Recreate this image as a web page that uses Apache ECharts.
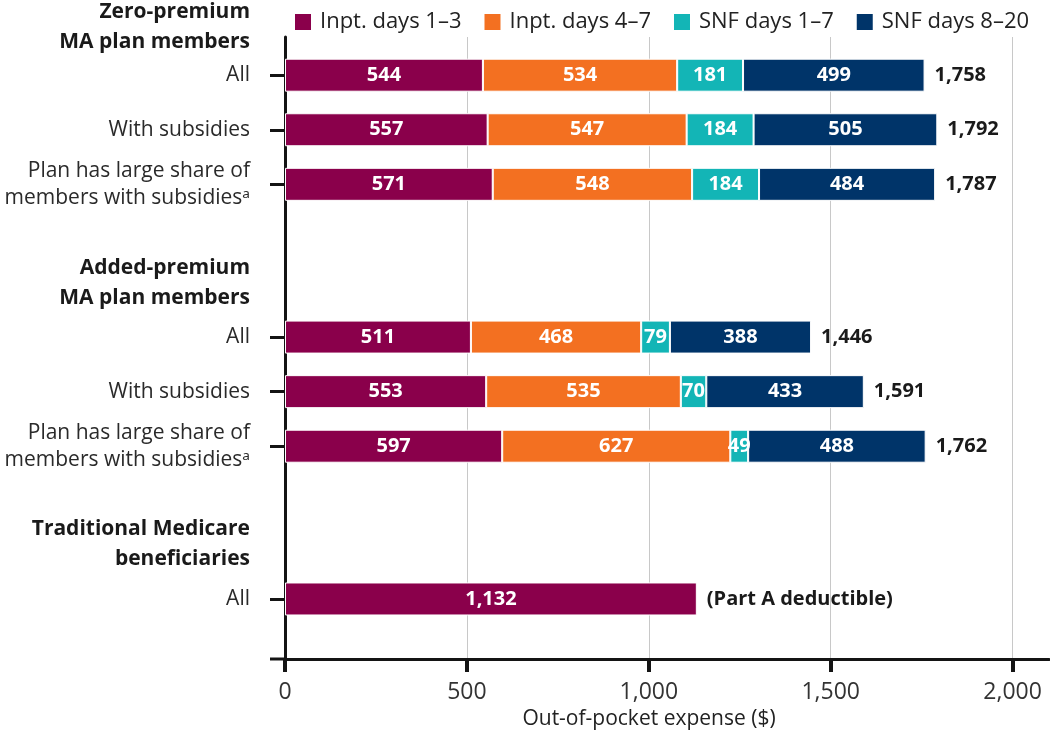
<!DOCTYPE html>
<html>
<head>
<meta charset="utf-8">
<script src="https://cdn.jsdelivr.net/npm/echarts@6/dist/echarts.min.js"></script>
<style>
  html, body { margin: 0; padding: 0; background: #fff; }
  #chart { width: 1050px; height: 744px; }
</style>
</head>
<body>
<div id="chart"></div>
<script>
// Data
var groupLabels = ['Zero-premium\nMA plan members', 'Added-premium\nMA plan members', 'Traditional Medicare\nbeneficiaries'];
var rowLabels = ['All', 'With subsidies', 'Plan has large share of\nmembers with subsidies\u1d43',
  'All', 'With subsidies', 'Plan has large share of\nmembers with subsidies\u1d43', 'All'];
var seriesNames = ['Inpt. days 1\u20133', 'Inpt. days 4\u20137', 'SNF days 1\u20137', 'SNF days 8\u201320'];
var inptDays13 = [544, 557, 571, 511, 553, 597, 1132];
var inptDays47 = [534, 547, 548, 468, 535, 627, null];
var snfDays17 = [181, 184, 184, 79, 70, 49, null];
var snfDays820 = [499, 505, 484, 388, 433, 488, null];
var totalLabels = ['1,758', '1,792', '1,787', '1,446', '1,591', '1,762', '(Part A deductible)'];
var xTicks = [0, 500, 1000, 1500, 2000];

(function() {
  var colors = ['#8a004b', '#f37021', '#13b5b6', '#003469'];
  var font = '"Open Sans", "Noto Sans", sans-serif';

  // 行的布局（每行 5 个小格）
  var nSlots = 57;
  var rowSlots = [3, 8, 13, 27, 32, 37, 51];
  var groupSlots = [0, 22, 46];

  var cats = [];
  for (var i = 0; i < nSlots; i++) cats.push('');
  rowSlots.forEach(function(s, k) { cats[s] = rowLabels[k]; });
  groupSlots.forEach(function(s, k) {
    cats[s] = {
      // 第一个标题往上挪一行
      value: k === 0 ? groupLabels[k] + '\n ' : groupLabels[k],
      textStyle: {
        fontWeight: 'bold',
        fontSize: 21,
        lineHeight: 30,
        color: '#1a1a1a'
      }
    };
  });

  function spread(vals) {
    var out = [];
    for (var i = 0; i < nSlots; i++) out.push(null);
    rowSlots.forEach(function(s, k) { out[s] = vals[k]; });
    return out;
  }

  var valueSets = [inptDays13, inptDays47, snfDays17, snfDays820];
  var series = valueSets.map(function(vals, k) {
    return {
      name: seriesNames[k],
      type: 'bar',
      stack: 'cost',
      barWidth: 33,
      data: spread(vals),
      itemStyle: { color: colors[k], borderColor: '#fff', borderWidth: 1 },
      label: {
        show: true,
        position: 'inside',
        color: '#fff',
        fontFamily: font,
        fontWeight: 'bold',
        fontSize: 20,
        formatter: function(p) {
          return p.value == null ? '' : echarts.format.addCommas(p.value);
        }
      }
    };
  });

  // 总计标签
  series.push({
    name: 'Total',
    type: 'bar',
    stack: 'cost',
    barWidth: 33,
    data: spread(totalLabels.map(function() { return 0; })),
    itemStyle: { color: 'rgba(0,0,0,0)' },
    label: {
      show: true,
      position: 'right',
      distance: 10,
      color: '#1a1a1a',
      fontFamily: font,
      fontWeight: 'bold',
      fontSize: 20,
      formatter: function(p) {
        var k = rowSlots.indexOf(p.dataIndex);
        return k < 0 ? '' : totalLabels[k];
      }
    }
  });

  var chart = echarts.init(document.getElementById('chart'));
  chart.setOption({
    animation: false,
    textStyle: { fontFamily: font },
    legend: {
      data: seriesNames,
      left: 293,
      top: 11,
      padding: 0,
      icon: 'rect',
      itemWidth: 18,
      itemHeight: 18,
      itemGap: 21,
      textStyle: { fontSize: 22, color: '#222', fontFamily: font, padding: [0, 0, 0, 3] }
    },
    grid: { left: 285, right: 1, top: 37, bottom: 85, containLabel: false, outerBoundsMode: 'none' },
    xAxis: {
      type: 'value',
      min: 0,
      max: 2100,
      interval: 500,
      name: 'Out-of-pocket expense ($)',
      nameLocation: 'middle',
      nameGap: 50,
      nameTextStyle: { fontSize: 21, color: '#222', padding: [0, 36, 0, 0] },
      axisLine: { show: true, lineStyle: { color: '#141414', width: 3 } },
      axisTick: { show: true, length: 13, customValues: xTicks, lineStyle: { color: '#141414', width: 4 } },
      axisLabel: {
        customValues: xTicks,
        margin: 22,
        fontSize: 23,
        color: '#333',
        formatter: function(v) { return echarts.format.addCommas(v); }
      },
      splitLine: {
        show: true,
        lineStyle: { color: ['#c8c8c8', '#c8c8c8', '#c8c8c8', '#c8c8c8', '#c8c8c8', 'rgba(0,0,0,0)'], width: 1 }
      }
    },
    yAxis: {
      type: 'category',
      inverse: true,
      data: cats,
      axisLine: { show: true, lineStyle: { color: '#141414', width: 3 } },
      axisTick: {
        show: true,
        alignWithLabel: true,
        length: 15,
        interval: function(idx) { return rowSlots.indexOf(idx) >= 0; },
        lineStyle: { color: '#141414', width: 3 }
      },
      axisLabel: {
        interval: 0,
        margin: 35,
        fontSize: 21,
        lineHeight: 27,
        color: '#2a2a2a'
      },
      splitLine: { show: false }
    },
    series: series
  });

  // x 轴线向左延伸一点
  var rect = chart.getModel().getComponent('grid').coordinateSystem.getRect();
  chart.setOption({
    graphic: [{
      type: 'line',
      shape: { x1: rect.x - 15, y1: rect.y + rect.height, x2: rect.x, y2: rect.y + rect.height },
      style: { stroke: '#141414', lineWidth: 3 }
    }]
  });
})();
</script>
</body>
</html>
